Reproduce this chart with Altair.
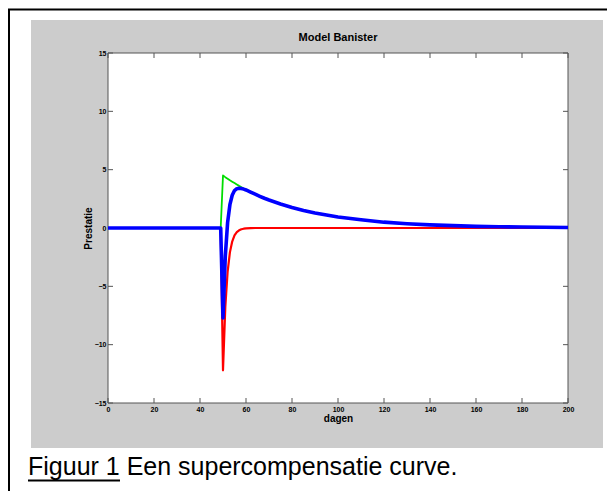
import altair as alt
import pandas as pd

# ---- data ----
days = [0, 10, 20, 30, 40, 49, 50, 51, 52, 53, 54, 55, 56, 57, 58, 59, 60,
        62, 64, 66, 68, 70, 75, 80, 85, 90, 95, 100,
        110, 120, 130, 140, 150, 160, 170, 180, 190, 200]
fitness = [0, 0, 0, 0, 0, 0, 4.50, 4.36, 4.23, 4.09, 3.97, 3.85, 3.73, 3.61, 3.50, 3.39, 3.29,
           3.09, 2.90, 2.72, 2.55, 2.40, 2.06, 1.76, 1.51, 1.29, 1.11, 0.94,
           0.70, 0.50, 0.37, 0.27, 0.20, 0.14, 0.11, 0.08, 0.06, 0.04]
fatigue = [0, 0, 0, 0, 0, 0, -12.2, -6.78, -3.77, -2.09, -1.16, -0.64, -0.36, -0.20, -0.11, -0.06, -0.03,
           -0.01, 0, 0, 0, 0, 0, 0, 0, 0, 0, 0,
           0, 0, 0, 0, 0, 0, 0, 0, 0, 0]
performance = [0, 0, 0, 0, 0, 0, -7.70, -2.42, 0.46, 2.00, 2.81, 3.21, 3.37, 3.41, 3.39, 3.33, 3.26,
               3.08, 2.90, 2.72, 2.55, 2.40, 2.06, 1.76, 1.51, 1.29, 1.11, 0.94,
               0.70, 0.50, 0.37, 0.27, 0.20, 0.14, 0.11, 0.08, 0.06, 0.04]

x_ticks = [0, 20, 40, 60, 80, 100, 120, 140, 160, 180, 200]
y_ticks = [-15, -10, -5, 0, 5, 10, 15]

title_text = "Model Banister"
x_title = "dagen"
y_title = "Prestatie"
caption_text = "Figuur 1 Een supercompensatie curve."

# ---- tables ----
rows = []
for name, vals in [("fitness", fitness), ("fatigue", fatigue), ("performance", performance)]:
    for d, v in zip(days, vals):
        rows.append({"day": d, "value": v, "series": name})
df = pd.DataFrame(rows)
xt = pd.DataFrame({"day": x_ticks})
yt = pd.DataFrame({"value": y_ticks})
one = pd.DataFrame({"a": [0]})

W, H = 460, 350
FONT = "Liberation Sans"
FRAME = "#555555"

xaxis = alt.Axis(values=x_ticks, title=x_title, grid=False, domain=False, ticks=False, tickSize=0,
                 labelPadding=2, labelFontSize=7, labelFont=FONT, labelFontWeight="bold",
                 labelColor="black", titleFont=FONT, titleFontSize=10, titleFontWeight="bold",
                 titleColor="black", titleX=230, titleY=15, titleBaseline="middle", zindex=1,
                 labelFlush=False)
yaxis = alt.Axis(values=y_ticks, title=y_title, grid=False, domain=False, ticks=False, tickSize=0,
                 labelPadding=2, labelFontSize=7, labelFont=FONT, labelFontWeight="bold",
                 labelColor="black", titleFont=FONT, titleFontSize=10, titleFontWeight="bold",
                 titleColor="black", titleX=-20, titleY=175, titleAngle=270, titleAlign="center",
                 titleBaseline="middle", zindex=1, labelFlush=False)
xenc = alt.X("day:Q", scale=alt.Scale(domain=[0, 200], nice=False, zero=False), axis=xaxis)
yenc = alt.Y("value:Q", scale=alt.Scale(domain=[-15, 15], nice=False, zero=False), axis=yaxis)

base1 = alt.Chart(one)

border = base1.mark_rect(fillOpacity=0, stroke="black", strokeWidth=2).encode(
    x=alt.value(-99), x2=alt.value(530), y=alt.value(-43.5), y2=alt.value(480))
gray = base1.mark_rect(color="#cccccc").encode(
    x=alt.value(-77), x2=alt.value(495), y=alt.value(-33), y2=alt.value(395))
plotbg = base1.mark_rect(fill="white", stroke=FRAME, strokeWidth=1).encode(
    x=alt.value(0), x2=alt.value(W), y=alt.value(0), y2=alt.value(H))

tick_bottom = alt.Chart(xt).mark_rule(color=FRAME, strokeWidth=1).encode(
    x=xenc, y=alt.value(H), y2=alt.value(H - 5))
tick_top = alt.Chart(xt).mark_rule(color=FRAME, strokeWidth=1).encode(
    x=xenc, y=alt.value(0), y2=alt.value(5))
tick_left = alt.Chart(yt).mark_rule(color=FRAME, strokeWidth=1).encode(
    y=yenc, x=alt.value(0), x2=alt.value(5))
tick_right = alt.Chart(yt).mark_rule(color=FRAME, strokeWidth=1).encode(
    y=yenc, x=alt.value(W), x2=alt.value(W - 5))

lines = alt.Chart(df)
green = lines.transform_filter(alt.datum.series == "fitness").mark_line(
    color="#00dd00", strokeWidth=1.8, strokeJoin="round").encode(x=xenc, y=yenc)
red = lines.transform_filter(alt.datum.series == "fatigue").mark_line(
    color="#ff0000", strokeWidth=2.2, strokeJoin="round").encode(x=xenc, y=yenc)
blue = lines.transform_filter(alt.datum.series == "performance").mark_line(
    color="#0000ff", strokeWidth=3.6, strokeJoin="round").encode(x=xenc, y=yenc)

title = base1.mark_text(text=title_text, align="center", baseline="middle", font=FONT,
                        fontSize=11, fontWeight="bold", color="black").encode(
    x=alt.value(W / 2), y=alt.value(-15))
caption = base1.mark_text(text=caption_text, align="left", baseline="alphabetic", font=FONT,
                          fontSize=25, color="black").encode(
    x=alt.value(-80), y=alt.value(422))
underline = base1.mark_rule(color="black", strokeWidth=1.8).encode(
    x=alt.value(-80), x2=alt.value(12), y=alt.value(427.5))

chart = alt.layer(
    border, gray, plotbg, tick_bottom, tick_top, tick_left, tick_right,
    green, red, blue, title, caption, underline
).properties(
    width=W, height=H,
    autosize=alt.AutoSizeParams(type="none"),
    padding={"left": 100, "top": 45, "right": 39, "bottom": 88},
    background="white",
).configure_view(stroke="transparent")

chart.save("out.html", embed_options={"renderer": "svg", "actions": False})
